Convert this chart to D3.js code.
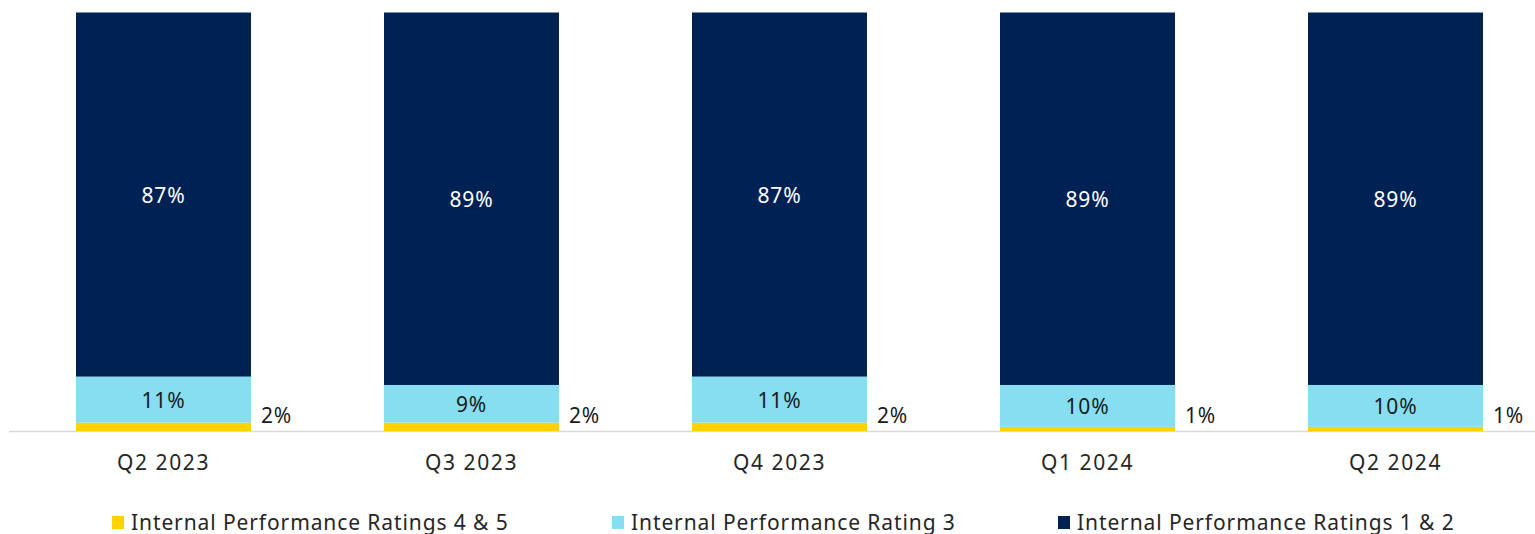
<!DOCTYPE html>
<html><head><meta charset="utf-8">
<script src="https://cdn.jsdelivr.net/npm/d3@7/dist/d3.min.js"></script>
<style>html,body{margin:0;padding:0;background:#fff;} svg{display:block;}</style>
</head><body>
<svg id="chart" width="1535" height="534"></svg>
<script>
const categories = ["Q2 2023", "Q3 2023", "Q4 2023", "Q1 2024", "Q2 2024"];
const ratings45 = [2, 2, 2, 1, 1];
const rating3 = [11, 9, 11, 10, 10];
const ratings12 = [87, 89, 87, 89, 89];
const seriesNames = ["Internal Performance Ratings 4 & 5", "Internal Performance Rating 3", "Internal Performance Ratings 1 & 2"];
const colors = ["#FFD200", "#87DEF0", "#002153"];

const svg = d3.select("#chart");
const font = "'Noto Sans', 'Open Sans', sans-serif";
const x = d3.scaleBand().domain(categories).range([9.5, 1549.5])
  .paddingInner(133/308).paddingOuter(66.5/308);
const y = d3.scaleLinear().domain([0, 100]).range([431, 12.5]);

const rows = categories.map((c, i) => ({cat: c, s0: ratings45[i], s1: rating3[i], s2: ratings12[i]}));
const stack = d3.stack().keys(["s0", "s1", "s2"])(rows);

svg.append("line").attr("x1", 9).attr("x2", 1535).attr("y1", 431.5).attr("y2", 431.5)
  .attr("stroke", "#d9d9d9").attr("stroke-width", 1.5);

stack.forEach((layer, k) => {
  svg.append("g").selectAll("rect").data(layer).enter().append("rect")
    .attr("x", d => x(d.data.cat)).attr("width", x.bandwidth())
    .attr("y", d => y(d[1])).attr("height", d => y(d[0]) - y(d[1]))
    .attr("fill", colors[k]);
});

// labels
const lbl = svg.append("g").attr("font-family", font).attr("font-size", 21).attr("letter-spacing", 0.8);
stack[2].forEach(d => {
  lbl.append("text").attr("x", x(d.data.cat) + x.bandwidth()/2).attr("y", (y(d[0]) + y(d[1]))/2)
    .attr("text-anchor", "middle").attr("dominant-baseline", "central").attr("fill", "#ffffff")
    .text(d.data.s2 + "%");
});
stack[1].forEach(d => {
  lbl.append("text").attr("x", x(d.data.cat) + x.bandwidth()/2).attr("y", (y(d[0]) + y(d[1]))/2)
    .attr("text-anchor", "middle").attr("dominant-baseline", "central").attr("fill", "#1a1a1a")
    .text(d.data.s1 + "%");
});
stack[0].forEach(d => {
  lbl.append("text").attr("x", x(d.data.cat) + x.bandwidth() + 10).attr("y", y(d[0]) - 16)
    .attr("text-anchor", "start").attr("dominant-baseline", "central").attr("fill", "#1a1a1a")
    .text(d.data.s0 + "%");
});

// x axis labels
const xAxis = d3.axisBottom(x).tickSize(0).tickPadding(0);
const ax = svg.append("g").attr("transform", "translate(0,431)").call(xAxis);
ax.select(".domain").remove();
ax.selectAll("text").attr("font-family", font).attr("font-size", 21).attr("letter-spacing", 1.6)
  .attr("fill", "#262626").attr("dy", null).attr("y", 31).attr("dominant-baseline", "central");

// legend
const legendX = [112, 612, 1058];
const lg = svg.append("g").attr("font-family", font).attr("font-size", 21).attr("letter-spacing", 0.9);
seriesNames.forEach((n, i) => {
  lg.append("rect").attr("x", legendX[i]).attr("y", 516).attr("width", 12).attr("height", 13).attr("fill", colors[i]);
  lg.append("text").attr("x", legendX[i] + 19).attr("y", 529.5)
    .attr("fill", "#262626").text(n);
});
</script>
</body></html>
